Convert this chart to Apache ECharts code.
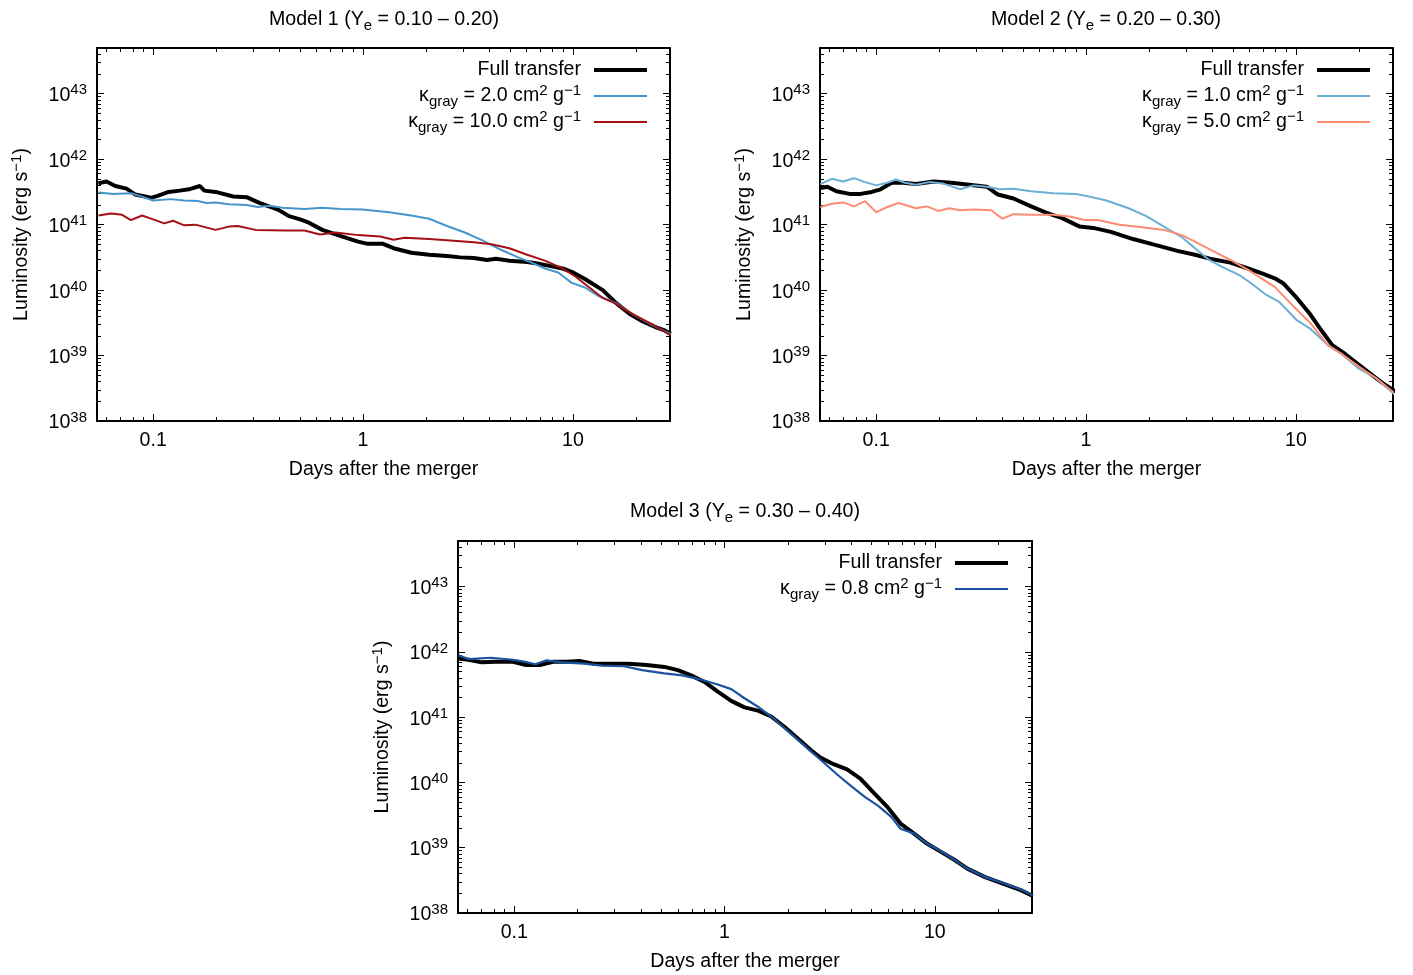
<!DOCTYPE html>
<html>
<head>
<meta charset="utf-8">
<title>Kilonova light curves</title>
<script src="https://cdn.jsdelivr.net/npm/echarts@6/dist/echarts.min.js"></script>
<style>
  html, body { margin: 0; padding: 0; background: #fff; }
  #chart { width: 1413px; height: 975px; }
</style>
</head>
<body>
<div id="chart"></div>
<script>
// Light curves, stored as [log10(days), log10(L / erg s^-1)]

// Model 1 (Ye = 0.10 - 0.20)
const m1Full = [
  [-1.261, 41.63], [-1.223, 41.66], [-1.180, 41.59], [-1.127, 41.55], [-1.085, 41.46],
  [-1.011, 41.41], [-0.979, 41.44], [-0.926, 41.50], [-0.873, 41.52], [-0.830, 41.54],
  [-0.777, 41.59], [-0.756, 41.52], [-0.703, 41.50], [-0.618, 41.43], [-0.555, 41.42],
  [-0.491, 41.33], [-0.406, 41.23], [-0.353, 41.13], [-0.300, 41.08], [-0.258, 41.03],
  [-0.194, 40.92], [-0.109, 40.83], [-0.024, 40.74], [0.018, 40.71], [0.092, 40.71],
  [0.145, 40.64], [0.230, 40.57], [0.315, 40.54], [0.400, 40.52], [0.463, 40.50],
  [0.527, 40.49], [0.591, 40.46], [0.633, 40.48], [0.697, 40.45], [0.782, 40.43],
  [0.824, 40.41], [0.888, 40.37], [0.951, 40.33], [0.994, 40.28], [1.057, 40.17],
  [1.142, 40.00], [1.206, 39.80], [1.269, 39.64], [1.333, 39.52], [1.397, 39.43],
  [1.440, 39.38], [1.466, 39.33]
];
const m1Gray2 = [
  [-1.261, 41.49], [-1.191, 41.47], [-1.106, 41.48], [-1.064, 41.44], [-1.000, 41.37],
  [-0.915, 41.39], [-0.852, 41.37], [-0.788, 41.36], [-0.745, 41.33], [-0.703, 41.34],
  [-0.639, 41.31], [-0.555, 41.30], [-0.502, 41.27], [-0.449, 41.29], [-0.385, 41.26],
  [-0.279, 41.24], [-0.194, 41.26], [-0.109, 41.24], [-0.003, 41.23], [0.124, 41.19],
  [0.230, 41.14], [0.315, 41.09], [0.400, 40.98], [0.485, 40.88], [0.569, 40.76],
  [0.654, 40.62], [0.739, 40.50], [0.803, 40.42], [0.866, 40.33], [0.930, 40.27],
  [0.994, 40.11], [1.057, 40.04], [1.121, 39.91], [1.206, 39.80], [1.291, 39.62],
  [1.376, 39.47], [1.466, 39.33]
];
const m1Gray10 = [
  [-1.261, 41.14], [-1.201, 41.17], [-1.148, 41.15], [-1.106, 41.07], [-1.053, 41.14],
  [-1.000, 41.08], [-0.947, 41.02], [-0.905, 41.06], [-0.852, 40.99], [-0.799, 41.00],
  [-0.703, 40.92], [-0.639, 40.97], [-0.597, 40.98], [-0.512, 40.92], [-0.364, 40.91],
  [-0.279, 40.91], [-0.205, 40.85], [-0.130, 40.88], [-0.024, 40.84], [0.082, 40.82],
  [0.145, 40.77], [0.198, 40.80], [0.315, 40.78], [0.400, 40.76], [0.527, 40.73],
  [0.612, 40.70], [0.697, 40.64], [0.782, 40.54], [0.866, 40.45], [0.951, 40.33],
  [1.015, 40.20], [1.078, 40.04], [1.142, 39.88], [1.206, 39.79], [1.291, 39.62],
  [1.376, 39.48], [1.466, 39.31]
];

// Model 2 (Ye = 0.20 - 0.30)
const m2Full = [
  [-1.266, 41.56], [-1.232, 41.58], [-1.190, 41.51], [-1.127, 41.47], [-1.074, 41.47],
  [-1.021, 41.50], [-0.979, 41.54], [-0.926, 41.64], [-0.873, 41.64], [-0.810, 41.62],
  [-0.726, 41.66], [-0.641, 41.64], [-0.557, 41.61], [-0.473, 41.58], [-0.420, 41.46],
  [-0.346, 41.40], [-0.262, 41.28], [-0.188, 41.18], [-0.114, 41.10], [-0.030, 40.97],
  [0.034, 40.95], [0.118, 40.89], [0.224, 40.78], [0.329, 40.69], [0.435, 40.60],
  [0.519, 40.54], [0.603, 40.47], [0.688, 40.42], [0.772, 40.33], [0.835, 40.26],
  [0.899, 40.18], [0.941, 40.10], [1.004, 39.88], [1.068, 39.63], [1.120, 39.39],
  [1.173, 39.16], [1.236, 39.02], [1.300, 38.86], [1.363, 38.70], [1.426, 38.55],
  [1.475, 38.45]
];
const m2Gray1 = [
  [-1.266, 41.62], [-1.211, 41.70], [-1.158, 41.66], [-1.105, 41.71], [-1.053, 41.65],
  [-1.000, 41.60], [-0.947, 41.64], [-0.905, 41.69], [-0.863, 41.64], [-0.810, 41.61],
  [-0.747, 41.65], [-0.684, 41.63], [-0.599, 41.54], [-0.536, 41.60], [-0.473, 41.58],
  [-0.409, 41.54], [-0.346, 41.55], [-0.262, 41.51], [-0.156, 41.48], [-0.051, 41.47],
  [0.013, 41.43], [0.097, 41.37], [0.203, 41.25], [0.287, 41.13], [0.371, 40.97],
  [0.456, 40.81], [0.519, 40.64], [0.582, 40.47], [0.646, 40.36], [0.730, 40.23],
  [0.793, 40.09], [0.857, 39.93], [0.920, 39.82], [1.004, 39.54], [1.068, 39.41],
  [1.152, 39.16], [1.215, 39.03], [1.300, 38.80], [1.384, 38.65], [1.475, 38.39]
];
const m2Gray5 = [
  [-1.266, 41.27], [-1.211, 41.32], [-1.158, 41.34], [-1.105, 41.28], [-1.053, 41.36],
  [-1.000, 41.19], [-0.947, 41.27], [-0.894, 41.33], [-0.810, 41.25], [-0.757, 41.28],
  [-0.705, 41.21], [-0.652, 41.25], [-0.599, 41.22], [-0.536, 41.23], [-0.451, 41.22],
  [-0.399, 41.09], [-0.346, 41.16], [-0.262, 41.15], [-0.156, 41.15], [-0.072, 41.12],
  [-0.008, 41.07], [0.055, 41.07], [0.160, 41.00], [0.266, 40.96], [0.371, 40.92],
  [0.456, 40.84], [0.519, 40.74], [0.603, 40.60], [0.688, 40.46], [0.772, 40.31],
  [0.835, 40.18], [0.899, 40.05], [0.962, 39.84], [1.004, 39.70], [1.068, 39.50],
  [1.152, 39.16], [1.215, 39.03], [1.300, 38.83], [1.384, 38.65], [1.475, 38.41]
];

// Model 3 (Ye = 0.30 - 0.40)
const m3Full = [
  [-1.265, 41.90], [-1.218, 41.88], [-1.155, 41.84], [-1.091, 41.85], [-1.006, 41.85],
  [-0.943, 41.80], [-0.879, 41.80], [-0.816, 41.85], [-0.752, 41.85], [-0.689, 41.86],
  [-0.625, 41.82], [-0.540, 41.82], [-0.456, 41.82], [-0.371, 41.80], [-0.286, 41.77],
  [-0.222, 41.72], [-0.159, 41.64], [-0.095, 41.54], [-0.032, 41.39], [0.032, 41.25],
  [0.095, 41.15], [0.159, 41.10], [0.222, 41.01], [0.286, 40.85], [0.350, 40.67],
  [0.413, 40.49], [0.456, 40.38], [0.519, 40.28], [0.583, 40.20], [0.646, 40.06],
  [0.710, 39.84], [0.773, 39.63], [0.837, 39.37], [0.900, 39.22], [0.964, 39.06],
  [1.028, 38.94], [1.091, 38.82], [1.155, 38.68], [1.239, 38.55], [1.324, 38.45],
  [1.409, 38.35], [1.466, 38.26]
];
const m3Gray08 = [
  [-1.265, 41.95], [-1.218, 41.89], [-1.112, 41.91], [-1.006, 41.88], [-0.953, 41.85],
  [-0.900, 41.81], [-0.847, 41.87], [-0.773, 41.84], [-0.667, 41.82], [-0.583, 41.79],
  [-0.477, 41.78], [-0.392, 41.72], [-0.286, 41.67], [-0.201, 41.64], [-0.117, 41.58],
  [-0.032, 41.50], [0.032, 41.43], [0.095, 41.29], [0.159, 41.16], [0.222, 41.01],
  [0.286, 40.83], [0.350, 40.65], [0.413, 40.47], [0.477, 40.29], [0.540, 40.11],
  [0.604, 39.94], [0.667, 39.78], [0.731, 39.64], [0.794, 39.47], [0.837, 39.29],
  [0.900, 39.22], [0.964, 39.06], [1.028, 38.95], [1.091, 38.82], [1.155, 38.68],
  [1.239, 38.55], [1.324, 38.46], [1.409, 38.36], [1.466, 38.27]
];

// Axis ranges (days, erg/s)
const dayRange = [0.054, 29];
const lumRange = [1e38, 5e43];

const FONT = '"Liberation Sans", Arial, Helvetica, sans-serif';
const FS = 19.6;

const rich = {
  n:   { fontSize: FS, lineHeight: 26, fontFamily: FONT, color: '#000' },
  sup: { fontSize: 15, lineHeight: 12, verticalAlign: 'top', fontFamily: FONT, color: '#000' },
  sub: { fontSize: 15, lineHeight: 12, verticalAlign: 'bottom', fontFamily: FONT, color: '#000' }
};

function toPoints(arr) {
  return arr.map(p => [Math.pow(10, p[0]), Math.pow(10, p[1])]);
}

function isDecade(v) {
  const e = Math.log10(v);
  return Math.abs(e - Math.round(e)) < 1e-6;
}

function xLabel(v) {
  if (!isDecade(v)) return '';
  const e = Math.round(Math.log10(v));
  return e < 0 ? v.toFixed(-e) : String(Math.round(v));
}

function yLabel(v) {
  if (!isDecade(v)) return '';
  return '{n|10}{sup|' + Math.round(Math.log10(v)) + '}';
}

const tickCommon = {
  axisLine: { show: true, onZero: false, lineStyle: { color: '#000', width: 2 } },
  axisTick: { show: true, inside: true, length: 7, lineStyle: { color: '#000', width: 1 } },
  minorTick: { show: true, inside: true, splitNumber: 9, length: 4, lineStyle: { color: '#000', width: 1 } },
  splitLine: { show: false },
  minorSplitLine: { show: false }
};

function xAxes(gridIndex) {
  const base = Object.assign({
    type: 'log', logBase: 10, gridIndex,
    min: dayRange[0], max: dayRange[1]
  }, tickCommon);
  return [
    Object.assign({}, base, {
      position: 'bottom',
      name: 'Days after the merger',
      nameLocation: 'middle',
      nameGap: 39,
      nameTextStyle: { fontSize: FS, fontFamily: FONT, color: '#000' },
      axisLabel: { show: true, margin: 10, fontSize: FS, fontFamily: FONT, color: '#000', formatter: xLabel }
    }),
    Object.assign({}, base, { position: 'top', axisLabel: { show: false } })
  ];
}

function yAxes(gridIndex) {
  const base = Object.assign({
    type: 'log', logBase: 10, gridIndex,
    min: lumRange[0], max: lumRange[1]
  }, tickCommon);
  return [
    Object.assign({}, base, {
      position: 'left',
      name: 'Luminosity (erg s{sup|−1})',
      nameLocation: 'middle',
      nameRotate: 90,
      nameGap: 62,
      nameTextStyle: { fontSize: FS, fontFamily: FONT, color: '#000', lineHeight: 26, rich },
      axisLabel: { show: true, margin: 10, padding: [4, 0, 0, 0], formatter: yLabel, rich, color: '#000' }
    }),
    Object.assign({}, base, { position: 'right', axisLabel: { show: false } })
  ];
}

const grids = [
  { left: 97,  top: 48,  width: 573, height: 373 },
  { left: 820, top: 48,  width: 573, height: 373 },
  { left: 458, top: 541, width: 574, height: 372 }
];

const titleCenters = [[379, 2], [1101, 2], [740, 494]];
const titleTexts = [
  'Model 1 (Y{sub|e} = 0.10 – 0.20)',
  'Model 2 (Y{sub|e} = 0.20 – 0.30)',
  'Model 3 (Y{sub|e} = 0.30 – 0.40)'
];

const legendLabels = {
  'Full transfer': 'Full transfer',
  'gray 2.0':  '{n|κ}{sub|gray}{n| = 2.0 cm}{sup|2}{n| g}{sup|−1}',
  'gray 10.0': '{n|κ}{sub|gray}{n| = 10.0 cm}{sup|2}{n| g}{sup|−1}',
  'gray 1.0':  '{n|κ}{sub|gray}{n| = 1.0 cm}{sup|2}{n| g}{sup|−1}',
  'gray 5.0':  '{n|κ}{sub|gray}{n| = 5.0 cm}{sup|2}{n| g}{sup|−1}',
  'gray 0.8':  '{n|κ}{sub|gray}{n| = 0.8 cm}{sup|2}{n| g}{sup|−1}'
};

const seriesColors = {
  'Full transfer': '#000000',
  'gray 2.0': '#4596cb',
  'gray 10.0': '#a50f15',
  'gray 1.0': '#6baed6',
  'gray 5.0': '#fc8d72',
  'gray 0.8': '#1a52a0'
};

function legendAt(rightEdge, top, names) {
  return {
    orient: 'vertical',
    align: 'right',
    right: 1413 - rightEdge,
    top,
    padding: 0,
    itemWidth: 53,
    itemHeight: 12,
    itemGap: 0,
    selectedMode: false,
    // the line sample only, no marker on it
    itemStyle: { color: 'rgba(0,0,0,0)', borderWidth: 0, opacity: 0 },
    data: names.map(name => ({
      name,
      lineStyle: { color: seriesColors[name], width: name === 'Full transfer' ? 4 : 2.2 }
    })),
    formatter: name => legendLabels[name] + '{pad|}',
    textStyle: {
      fontSize: FS, fontFamily: FONT, color: '#000', lineHeight: 26,
      rich: Object.assign({ pad: { width: 8 } }, rich)
    }
  };
}

function lineSeries(name, data, width, xi, yi) {
  const color = seriesColors[name];
  return {
    type: 'line', name,
    xAxisIndex: xi, yAxisIndex: yi,
    data: toPoints(data),
    showSymbol: false, symbol: 'none',
    lineStyle: { color, width },
    itemStyle: { color },
    z: width > 3 ? 2 : 3,
    animation: false
  };
}

const option = {
  backgroundColor: '#ffffff',
  animation: false,
  title: titleTexts.map((t, i) => ({
    text: t,
    left: titleCenters[i][0],
    top: titleCenters[i][1],
    textAlign: 'center',
    textStyle: {
      fontSize: FS, fontWeight: 'normal', fontFamily: FONT, color: '#000', lineHeight: 26,
      rich
    }
  })),
  grid: grids,
  xAxis: [].concat(xAxes(0), xAxes(1), xAxes(2)),
  yAxis: [].concat(yAxes(0), yAxes(1), yAxes(2)),
  legend: [
    legendAt(649, 57, ['Full transfer', 'gray 2.0', 'gray 10.0']),
    legendAt(1372, 57, ['Full transfer', 'gray 1.0', 'gray 5.0']),
    legendAt(1010, 550, ['Full transfer', 'gray 0.8'])
  ],
  series: [
    lineSeries('Full transfer', m1Full, 4, 0, 0),
    lineSeries('gray 2.0', m1Gray2, 2, 0, 0),
    lineSeries('gray 10.0', m1Gray10, 2, 0, 0),
    lineSeries('Full transfer', m2Full, 4, 2, 2),
    lineSeries('gray 1.0', m2Gray1, 2, 2, 2),
    lineSeries('gray 5.0', m2Gray5, 2, 2, 2),
    lineSeries('Full transfer', m3Full, 4, 4, 4),
    lineSeries('gray 0.8', m3Gray08, 2.2, 4, 4)
  ]
};

const chart = echarts.init(document.getElementById('chart'), null, { renderer: 'canvas' });
chart.setOption(option);
</script>
</body>
</html>
